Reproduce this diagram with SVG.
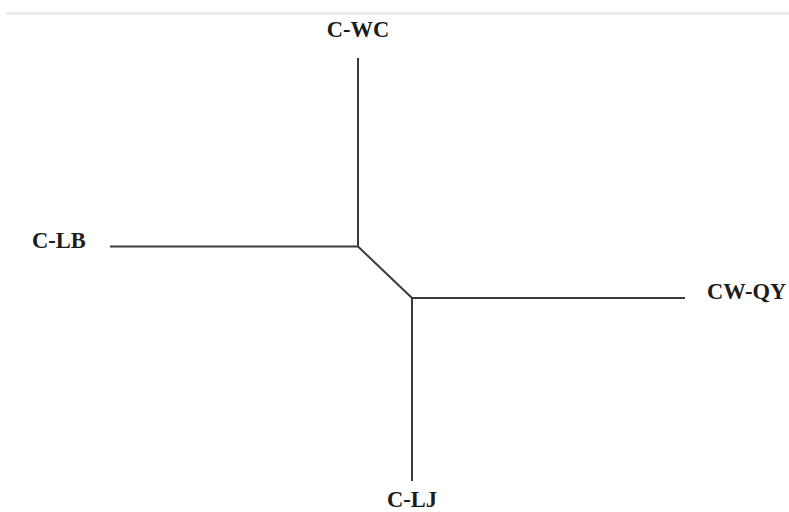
<svg xmlns="http://www.w3.org/2000/svg" width="789" height="512" viewBox="0 0 789 512">
  <style>
    .edge { stroke: #3a3a3a; stroke-width: 2; fill: none; stroke-linecap: butt; stroke-linejoin: miter; }
    .label { font-family: "Liberation Serif", "Times New Roman", serif; font-weight: bold; font-size: 22.5px; fill: #1c1c1c; }
  </style>
  <rect width="789" height="512" fill="#ffffff"/>
  <!-- page rule -->
  <line x1="6" y1="13.5" x2="789" y2="13.5" stroke="#e2e2e2" stroke-width="2"/>
  <g id="connectors">
    <path class="edge" d="M358,58 V246.5 H110"/>
    <path class="edge" d="M358,246.5 L412,298"/>
    <path class="edge" d="M412,298 H685"/>
    <path class="edge" d="M412,298 V481"/>
  </g>
  <g id="node-c-wc"><text class="label" x="358" y="37" text-anchor="middle">C-WC</text></g>
  <g id="node-c-lb"><text class="label" x="32" y="248">C-LB</text></g>
  <g id="node-cw-qy"><text class="label" x="707" y="299">CW-QY</text></g>
  <g id="node-c-lj"><text class="label" x="412" y="507" text-anchor="middle">C-LJ</text></g>
</svg>
